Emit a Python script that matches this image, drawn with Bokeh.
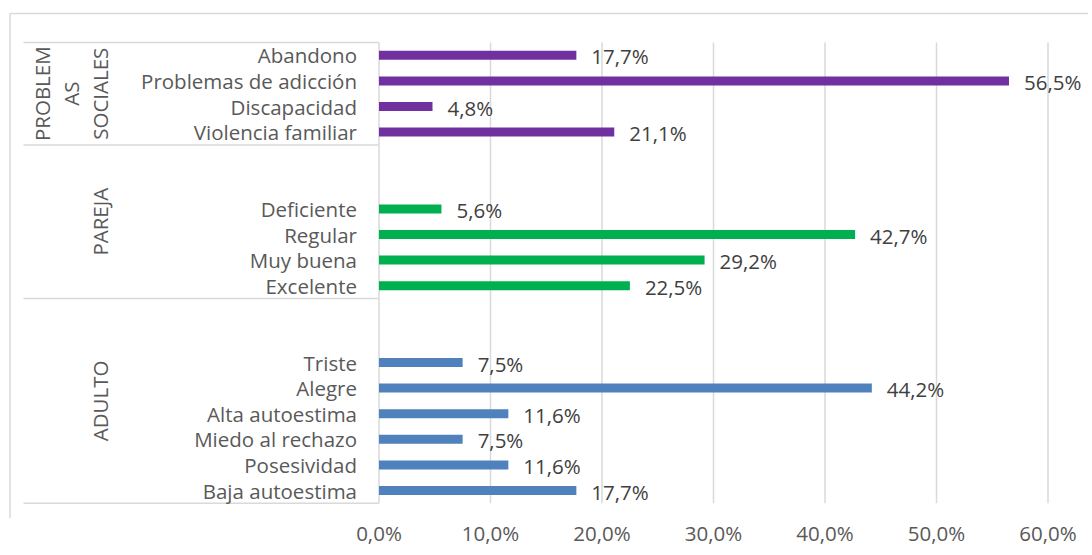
import math
from bokeh.plotting import figure
from bokeh.models import Range1d, FixedTicker, ColumnDataSource
from bokeh.core.properties import value
from bokeh.embed import file_html
from bokeh.resources import INLINE

# ---------------- data ----------------
adulto_cats = ["Baja autoestima", "Posesividad", "Miedo al rechazo",
               "Alta autoestima", "Alegre", "Triste"]
adulto_vals = [17.7, 11.6, 7.5, 11.6, 44.2, 7.5]

pareja_cats = ["Excelente", "Muy buena", "Regular", "Deficiente"]
pareja_vals = [22.5, 29.2, 42.7, 5.6]

problemas_cats = ["Violencia familiar", "Discapacidad",
                  "Problemas de adicción", "Abandono"]
problemas_vals = [21.1, 4.8, 56.5, 17.7]

group_names = ["ADULTO", "PAREJA", "PROBLEMAS SOCIALES"]
group_label_lines = [["ADULTO"], ["PAREJA"], ["PROBLEM", "AS", "SOCIALES"]]
group_blank_slots = [2, 2, 0]
group_colors = ["#4F81BD", "#00B050", "#7030A0"]

x_ticks = [0, 10, 20, 30, 40, 50, 60]
x_tick_labels = ["0,0%", "10,0%", "20,0%", "30,0%", "40,0%", "50,0%", "60,0%"]

# ---------------- layout helpers ----------------
FONT = "Open Sans"
PX_PER_UNIT = 11.15          # pixels per 1 %
X0_PAGE = 378.5              # page x of value 0
FRAME_LEFT, FRAME_W = 0, 1088
FRAME_TOP, FRAME_H = 0, 518
SLOT_PX = 25.6               # pixels per category slot
SLOT0_PAGE = 490             # page y of slot 0

def dx(page_x):
    return (page_x - X0_PAGE) / PX_PER_UNIT

def dy(page_y):
    return (SLOT0_PAGE - page_y) / SLOT_PX

groups = [(adulto_cats, adulto_vals), (pareja_cats, pareja_vals),
          (problemas_cats, problemas_vals)]

cats, vals, slots, colors = [], [], [], []
bounds = [-0.5]
group_centers = []
s = 0
for gi, (gc, gv) in enumerate(groups):
    start = s
    for c, v in zip(gc, gv):
        cats.append(c)
        vals.append(v)
        slots.append(s)
        colors.append(group_colors[gi])
        s += 1
    s += group_blank_slots[gi]
    bounds.append(s - 0.5)
    group_centers.append((start - 0.5 + s - 0.5) / 2)

src = ColumnDataSource(dict(
    cat=cats, val=vals, slot=slots, color=colors,
    lab=[f"{v:.1f}%".replace(".", ",") for v in vals],
    zero=[0] * len(vals),
))

p = figure(frame_width=FRAME_W, frame_height=FRAME_H,
           x_range=Range1d(dx(FRAME_LEFT), dx(FRAME_LEFT + FRAME_W)),
           y_range=Range1d(dy(FRAME_TOP + FRAME_H), dy(FRAME_TOP)),
           output_backend="svg", toolbar_location=None,
           min_border=0, outline_line_color=None)
p.yaxis.visible = False
p.grid.visible = False

GRID = "#D9D9D9"
top_b, bot_b = bounds[-1], bounds[0]

# chart border (left and top)
p.segment(x0=[dx(9.5), dx(9.5)], y0=[dy(13), dy(13)],
          x1=[dx(9.5), dx(FRAME_LEFT + FRAME_W)],
          y1=[dy(FRAME_TOP + FRAME_H), dy(13)],
          line_color=GRID, line_width=1.5)

# vertical gridlines
gx = [t for t in x_ticks if t != 0]
p.segment(x0=gx, y0=[bot_b] * len(gx), x1=gx, y1=[top_b] * len(gx),
          line_color=GRID, line_width=1.5)
# category axis line
p.segment(x0=[0], y0=[bot_b], x1=[0], y1=[top_b], line_color=GRID, line_width=1.5)
# group separator lines in the category area
p.segment(x0=[dx(23)] * len(bounds), y0=bounds, x1=[0] * len(bounds), y1=bounds,
          line_color=GRID, line_width=1.5)

# bars
p.hbar(y="slot", left="zero", right="val", height=0.35, color="color",
       source=src, line_color=None)

# value labels
p.text(x="val", y="slot", text="lab", source=src, x_offset=15, y_offset=1,
       text_align="left", text_baseline="middle", text_color="#404040",
       text_font=value(FONT), text_font_size="20.5px")

# category labels
p.text(x="zero", y="slot", text="cat", source=src, x_offset=-22,
       text_align="right", text_baseline="middle", text_color="#595959",
       text_font=value(FONT), text_font_size="20.5px")

# group labels (vertical)
gl_x, gl_y, gl_t, gl_off = [], [], [], []
for lines, yc in zip(group_label_lines, group_centers):
    n = len(lines)
    for i, t in enumerate(lines):
        gl_x.append(0)
        gl_y.append(yc)
        gl_t.append(t)
        gl_off.append(99 - (n - 1 - i) * 29 - X0_PAGE)
p.text(x=gl_x, y=gl_y, text=gl_t, x_offset=gl_off, angle=math.pi / 2,
       text_align="center", text_baseline="middle", text_color="#595959",
       text_font=value(FONT), text_font_size="20.5px")

# x axis
ax = p.xaxis[0]
ax.ticker = FixedTicker(ticks=x_ticks)
ax.major_label_overrides = {t: l for t, l in zip(x_ticks, x_tick_labels)}
ax.axis_line_color = None
ax.major_tick_line_color = None
ax.minor_tick_line_color = None
ax.major_tick_out = 0
ax.major_label_standoff = 0
ax.major_label_text_font = FONT
ax.major_label_text_font_size = "20.5px"
ax.major_label_text_color = "#595959"

open("out.html", "w").write(file_html(p, INLINE))
